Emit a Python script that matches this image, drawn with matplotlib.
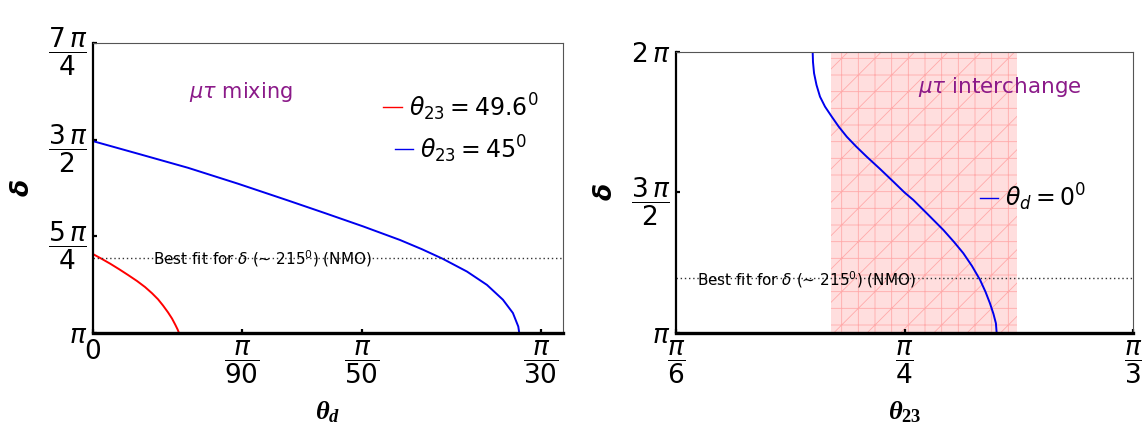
import numpy as np
import matplotlib
matplotlib.use("Agg")
import matplotlib.pyplot as plt

plt.rcParams['font.family'] = ['DejaVu Sans']
plt.rcParams['mathtext.fontset'] = 'dejavusans'
# bold serif italics for the axis titles (used through math_fontfamily='custom')
plt.rcParams['mathtext.it'] = 'Liberation Serif:italic:bold'
plt.rcParams['mathtext.rm'] = 'Liberation Serif:bold'
plt.rcParams['hatch.linewidth'] = 0.6

# left panel (mu-tau mixing): theta_d in degrees, delta in degrees
red_thd = [0.0, 0.111, 0.232, 0.353, 0.473, 0.593, 0.700, 0.794, 0.874,
           0.941, 1.008, 1.062, 1.106, 1.137, 1.155]
red_delta = [216.8, 214.7, 212.3, 209.7, 207.0, 204.2, 201.4, 198.5, 195.7,
             192.8, 189.6, 186.7, 183.8, 181.6, 180.0]
blue_thd = [0.0, 0.633, 1.276, 1.945, 2.614, 3.110, 3.618, 4.114, 4.408,
            4.689, 5.011, 5.278, 5.492, 5.626, 5.698, 5.711]
blue_delta = [269.35, 263.2, 256.9, 249.5, 241.7, 235.8, 229.65, 223.3, 219.0,
              214.5, 208.6, 202.4, 195.5, 189.3, 183.0, 180.0]

# right panel (mu-tau interchange): theta_23 in degrees, delta in degrees
int_th23 = [38.97, 38.99, 39.06, 39.22, 39.45, 39.78, 40.22, 40.67, 41.21,
            41.82, 42.52, 43.39, 44.27, 45.0, 45.58, 46.54, 47.55, 48.25,
            48.86, 49.43, 49.96, 50.32, 50.61, 50.84, 51.0, 51.05]
int_delta = [360.0, 353.6, 346.4, 338.9, 331.4, 325.0, 318.6, 312.3, 305.7,
             299.5, 292.9, 285.1, 276.9, 270.0, 265.2, 255.9, 246.0, 238.3,
             231.1, 222.9, 214.0, 206.3, 199.0, 192.2, 186.2, 180.0]
band_th23 = [40.2, 52.4]

best_fit = 215.0

left_xticks = [0, np.pi/90, np.pi/50, np.pi/30]
left_xlabels = ['0', r'$\dfrac{\pi}{90}$', r'$\dfrac{\pi}{50}$', r'$\dfrac{\pi}{30}$']
left_yticks = [np.pi, 5*np.pi/4, 3*np.pi/2, 7*np.pi/4]
left_ylabels = [r'$\pi$', r'$\dfrac{5\,\pi}{4}$', r'$\dfrac{3\,\pi}{2}$', r'$\dfrac{7\,\pi}{4}$']
right_xticks = [np.pi/6, np.pi/4, np.pi/3]
right_xlabels = [r'$\dfrac{\pi}{6}$', r'$\dfrac{\pi}{4}$', r'$\dfrac{\pi}{3}$']
right_yticks = [np.pi, 3*np.pi/2, 2*np.pi]
right_ylabels = [r'$\pi$', r'$\dfrac{3\,\pi}{2}$', r'$2\,\pi$']

red = '#ff0000'
blue = '#0000ee'
purple = '#8b1a89'

fig = plt.figure(figsize=(11.42, 4.28), dpi=100)
ax1 = fig.add_axes([0.0812, 0.222, 0.4118, 0.6775])
ax2 = fig.add_axes([0.592, 0.222, 0.4001, 0.6565])


def style_frame(ax):
    for side in ['top', 'right']:
        ax.spines[side].set_linewidth(0.8)
        ax.spines[side].set_color('#555555')
    ax.spines['left'].set_linewidth(1.6)
    ax.spines['bottom'].set_linewidth(2.4)
    ax.tick_params(direction='in', length=3, width=1.6, labelsize=19, pad=4)


# left panel
ax1.plot(np.radians(red_thd), np.radians(red_delta), color=red, lw=1.4)
ax1.plot(np.radians(blue_thd), np.radians(blue_delta), color=blue, lw=1.4)
ax1.axhline(np.radians(best_fit), color='#333333', ls=(0, (1, 2)), lw=1)
ax1.set_xlim(0, 0.1099)
ax1.set_ylim(np.pi, 7*np.pi/4)
ax1.set_xticks(left_xticks)
ax1.set_xticklabels(left_xlabels)
ax1.set_yticks(left_yticks)
ax1.set_yticklabels(left_ylabels)
style_frame(ax1)
ax1.set_ylabel(r'$\boldsymbol{\delta}$', fontsize=18, labelpad=10)
ax1.set_xlabel(r'$\theta_d$', fontsize=19, math_fontfamily='custom', labelpad=10)
ax1.text(0.205, 0.83, r'$\mu\tau$ mixing', transform=ax1.transAxes, color=purple,
         fontsize=15, va='center')
ax1.text(0.128, 0.255, r'Best fit for $\delta$ (~ 215$^0$) (NMO)', transform=ax1.transAxes,
         fontsize=11, va='center')
# legend entries drawn by hand (centred like the original)
ax1.plot([0.617, 0.657], [0.779, 0.779], color=red, lw=1, transform=ax1.transAxes)
ax1.text(0.672, 0.779, r'$\theta_{23} = 49.6^0$', transform=ax1.transAxes,
         fontsize=17, va='center')
ax1.plot([0.642, 0.681], [0.634, 0.634], color=blue, lw=1, transform=ax1.transAxes)
ax1.text(0.695, 0.634, r'$\theta_{23} = 45^0$', transform=ax1.transAxes,
         fontsize=17, va='center')

# right panel
ax2.axvspan(np.radians(band_th23[0]), np.radians(band_th23[1]), facecolor='#ffdede',
            edgecolor='#ffaaaa', hatch='+/', lw=0, zorder=0)
ax2.plot(np.radians(int_th23), np.radians(int_delta), color=blue, lw=1.4)
ax2.axhline(np.radians(best_fit), color='#333333', ls=(0, (1, 2)), lw=1)
ax2.set_xlim(np.pi/6, np.pi/3)
ax2.set_ylim(np.pi, 2*np.pi)
ax2.set_xticks(right_xticks)
ax2.set_xticklabels(right_xlabels)
ax2.set_yticks(right_yticks)
ax2.set_yticklabels(right_ylabels)
style_frame(ax2)
ax2.set_ylabel(r'$\boldsymbol{\delta}$', fontsize=18, labelpad=10)
ax2.set_xlabel(r'$\theta_{23}$', fontsize=19, math_fontfamily='custom', labelpad=10)
ax2.text(0.53, 0.875, r'$\mu\tau$ interchange', transform=ax2.transAxes, color=purple,
         fontsize=15.5, va='center')
ax2.text(0.045, 0.19, r'Best fit for $\delta$ (~ 215$^0$) (NMO)', transform=ax2.transAxes,
         fontsize=11, va='center')
ax2.plot([0.665, 0.705], [0.482, 0.482], color=blue, lw=1, transform=ax2.transAxes)
ax2.text(0.72, 0.482, r'$\theta_d = 0^0$', transform=ax2.transAxes,
         fontsize=17, va='center')

fig.savefig('out.png', dpi=100)
